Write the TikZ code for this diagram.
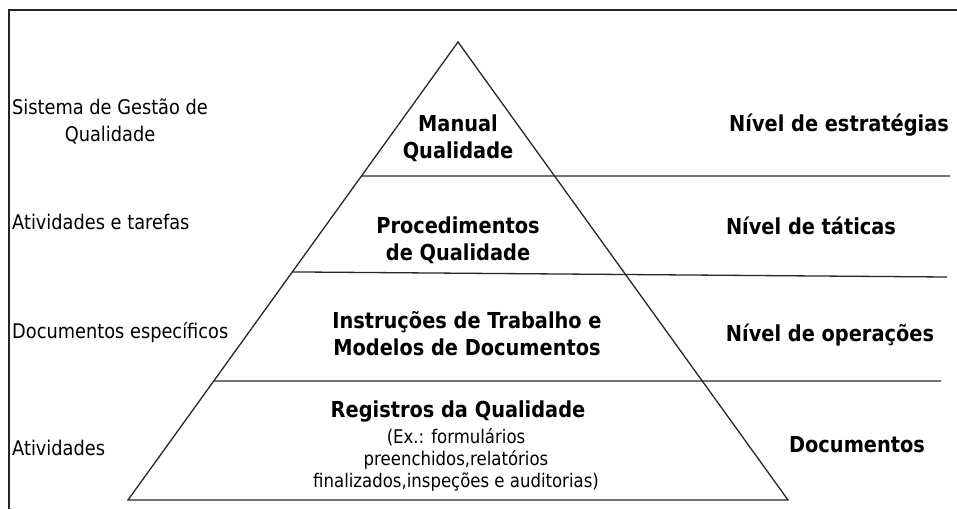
\documentclass[tikz,border=0pt]{standalone}
\usepackage{fontspec}
\setmainfont[FakeStretch=0.88]{DejaVu Sans}
\usetikzlibrary{calc}
\begin{document}
\begin{tikzpicture}[x=1pt,y=-1pt,
  lvl/.style={line width=1.3pt, draw=black!85},
  big/.style={font=\bfseries\fontsize{22}{27}\selectfont, align=center, inner sep=0pt},
  side/.style={font=\fontsize{20.2}{27}\selectfont, align=center, inner sep=0pt},
  small/.style={font=\fontsize{18.8}{22}\selectfont, align=center, inner sep=0pt}]
\useasboundingbox (0,0) rectangle (957,509);
% frame
\coordinate (fbl) at (9,509);
\coordinate (ftl) at (9,10);
\coordinate (ftr) at (957,10);
\draw[lvl] (fbl) -- (ftl) -- (ftr);
% pyramid
\coordinate (apex) at (458,42);
\coordinate (bl) at (128,500);
\coordinate (br) at (788,500);
\draw[lvl, line join=miter] (apex) -- (bl) -- (br) -- cycle;
\coordinate (r1) at (950,176);
\coordinate (r2) at (947,277);
\coordinate (r3) at (941,381);
\draw[lvl] ($(apex)!0.2926!(bl)$) -- (r1);
\draw[lvl] ($(apex)!0.502!(bl)$) -- (r2);
\draw[lvl] ($(apex)!0.74!(bl)$) -- (r3);
% left texts
\node[side, anchor=west] (sgq) at (12,121.5) {Sistema de Gestão de\\Qualidade};
\node[side, anchor=west] (atf) at (12,222) {Atividades e tarefas};
\node[side, anchor=west] (doc) at (12,333) {Documentos específicos};
\node[side, anchor=west] (ativ) at (12,448) {Atividades};
% centre texts
\node[big] (man) at (458,138.5) {Manual\\Qualidade};
\node[big] (proc) at (458,240) {Procedimentos\\de Qualidade};
\node[big] (inst) at (467,333.5) {Instruções de Trabalho e\\Modelos de Documentos};
\node[big] (reg) at (458,412) {Registros da Qualidade};
\node[small] (ex) at (456,460) {(Ex.: formulários\\preenchidos,relatórios\\finalizados,inspeções e auditorias)};
% right texts
\node[big] (ne) at (839,125) {Nível de estratégias};
\node[big] (nt) at (811,226) {Nível de táticas};
\node[big] (no) at (830,335) {Nível de operações};
\node[big] (nd) at (857,445) {Documentos};
\end{tikzpicture}
\end{document}
